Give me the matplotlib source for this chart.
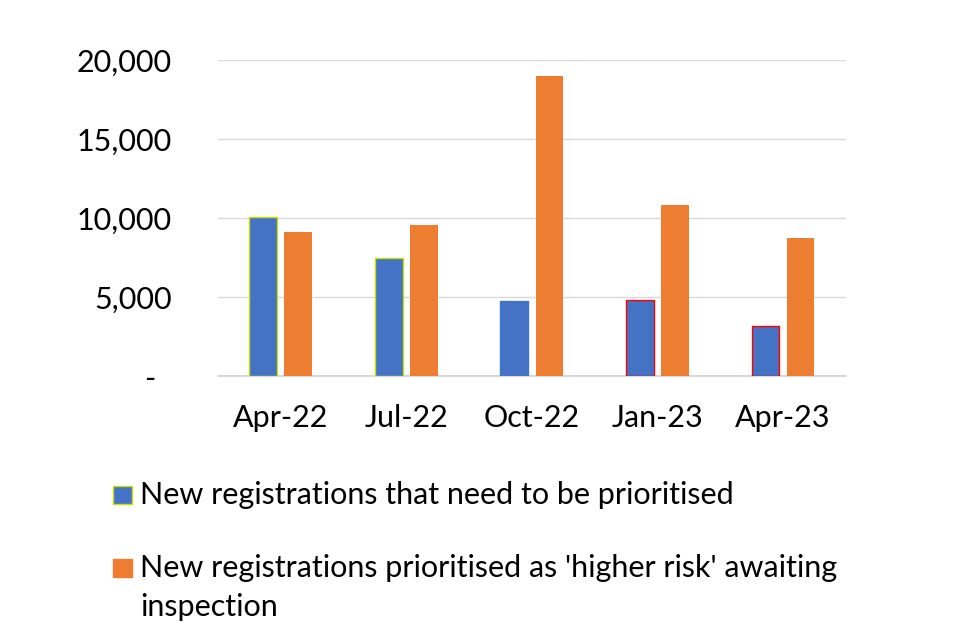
import matplotlib
matplotlib.use("Agg")
import matplotlib.pyplot as plt
import numpy as np
from matplotlib.patches import Rectangle
from matplotlib.ticker import FuncFormatter

plt.rcParams['font.family'] = ['Lato', 'DejaVu Sans']

quarters = ["Apr-22", "Jul-22", "Oct-22", "Jan-23", "Apr-23"]
need_prioritising = [10050, 7450, 4750, 4800, 3150]
higher_risk = [9100, 9550, 19000, 10800, 8750]
series_names = ["New registrations that need to be prioritised",
                "New registrations prioritised as 'higher risk' awaiting\ninspection"]

blue = "#4472C4"
orange = "#ED7D31"

fig = plt.figure(figsize=(9.6, 6.4), dpi=100)
ax = fig.add_axes([0.227, 0.4125, 0.654, 0.4935])

x = np.arange(len(quarters))
w = 0.22
b1 = ax.bar(x - 0.14, need_prioritising, w, color=blue, zorder=3)
b2 = ax.bar(x + 0.14, higher_risk, w, color=orange, zorder=3)

# odd outlines visible on some of the blue bars in the original
edge = ["#C8E000", "#C8E000", blue, "#FF0000", "#FF0000"]
for rect, ec in zip(b1, edge):
    rect.set_edgecolor(ec)
    rect.set_linewidth(1.0)

ax.set_xlim(-0.5, len(quarters) - 0.5)
ax.set_ylim(0, 20000)
ax.set_yticks(np.arange(0, 20001, 5000))
ax.yaxis.set_major_formatter(FuncFormatter(lambda v, p: "-  " if v == 0 else f"{int(v):,}"))
ax.set_xticks(x)
ax.set_xticklabels(quarters)
ax.tick_params(axis="both", length=0, labelsize=22, colors="#000000")
ax.tick_params(axis="x", pad=20)
ax.tick_params(axis="y", pad=33)
ax.grid(axis="y", color="#D9D9D9", linewidth=1, zorder=0)
for s in ["top", "right", "left"]:
    ax.spines[s].set_visible(False)
ax.spines["bottom"].set_color("#D0D0D0")
ax.spines["bottom"].set_linewidth(1.2)

# legend below the chart, key square aligned with the first text line
key_x = 113 / 960
text_x = 140 / 960
rows_y = [1 - 495 / 640, 1 - 568 / 640]
for (name, colr, ec), ry in zip([(series_names[0], blue, "#C8E000"),
                                 (series_names[1], orange, orange)], rows_y):
    fig.patches.append(Rectangle((key_x, ry - 9 / 640), 19 / 960, 18 / 640,
                                 transform=fig.transFigure, facecolor=colr,
                                 edgecolor=ec, linewidth=1.0))
    fig.text(text_x, ry + 14 / 640, name, fontsize=22, va="top", ha="left",
             linespacing=1.48)

fig.savefig("out.png", dpi=100)
